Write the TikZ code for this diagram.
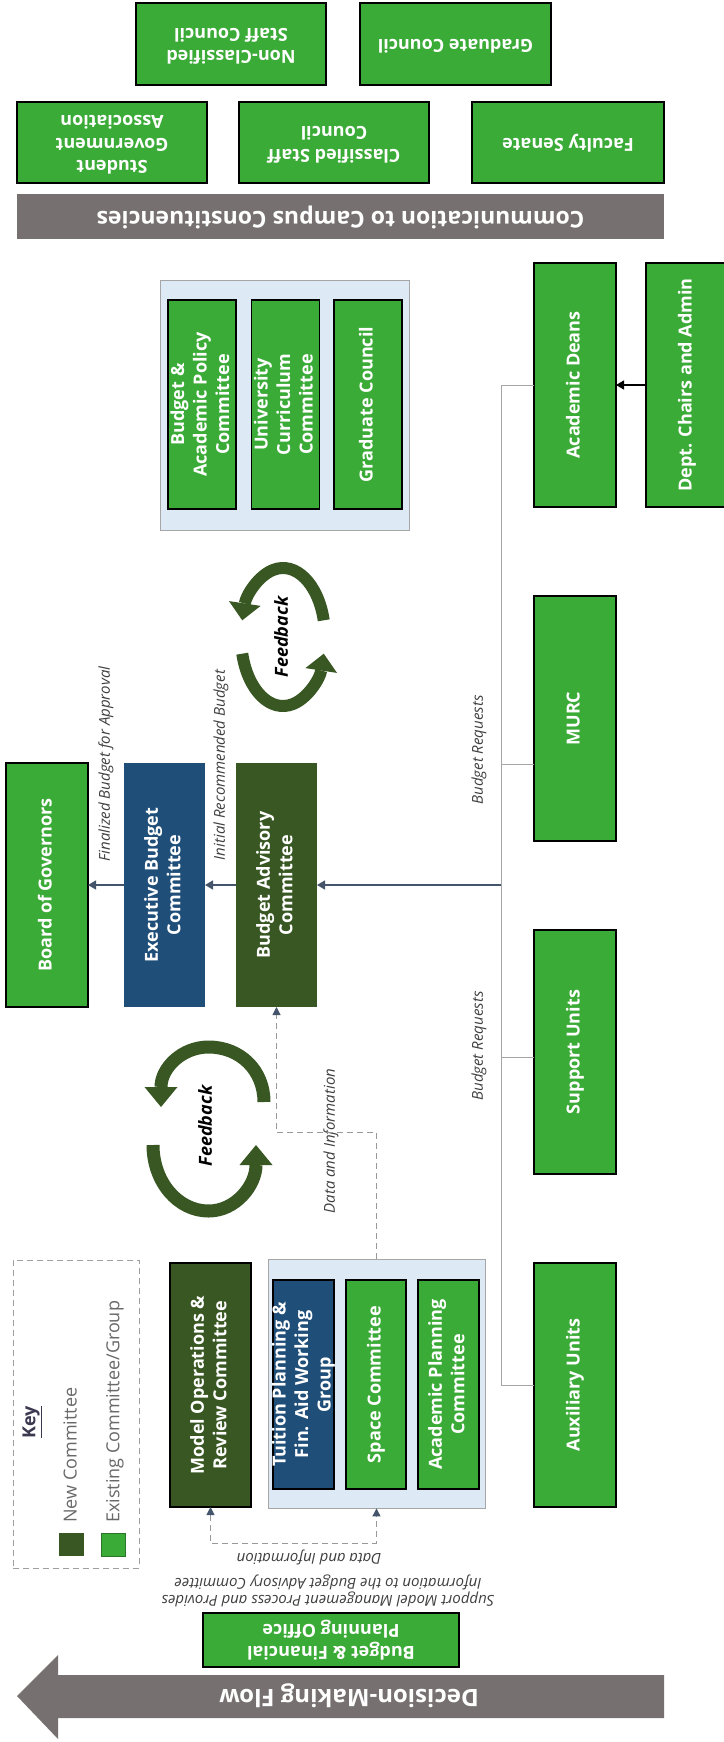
\documentclass[tikz,border=0pt]{standalone}
\usepackage{graphicx}
\usepackage{fontspec}
\setmainfont{Open Sans}
\usetikzlibrary{arrows.meta}
\definecolor{lg}{RGB}{59,171,55}
\definecolor{dg}{RGB}{56,87,35}
\definecolor{bl}{RGB}{31,78,121}
\definecolor{gbar}{RGB}{118,112,113}
\definecolor{lb}{RGB}{221,234,246}
\definecolor{slate}{RGB}{68,84,106}
\definecolor{keytxt}{RGB}{105,105,105}
\definecolor{keyblue}{RGB}{59,56,80}
\newcommand\myrot[1]{\rotatebox{90}{\begin{tabular}{@{}c@{}}#1\end{tabular}}}
\newcommand\myflip[1]{\rotatebox{180}{\begin{tabular}{@{}c@{}}#1\end{tabular}}}
\tikzset{
  bx/.style={inner sep=0pt, outer sep=0pt, text=white, font=\bfseries\fontsize{18}{22.5}\selectfont},
  gbx/.style={bx, fill=lg, draw=black, line width=1.1pt},
  dbx/.style={bx, fill=dg},
  bbx/.style={bx, fill=bl},
  sz/.style 2 args={minimum width=#1, minimum height=#2},
  cont/.style={fill=lb, draw=gray!70, line width=0.8pt, inner sep=0pt},
  lbl/.style={font=\itshape\fontsize{15}{17}\selectfont, text=black!75, inner sep=0pt},
  tline/.style={draw=gray!70, line width=1pt},
  sarr/.style={draw=slate, line width=1.3pt, -{Triangle[length=8pt,width=9pt]}},
  karr/.style={draw=black, line width=1.3pt, -{Triangle[length=8pt,width=9pt]}},
  darr/.style={draw=gray!80, line width=1pt, dash pattern=on 6pt off 4pt, -{Triangle[length=8pt,width=8pt,color=slate]}},
  darrb/.style={draw=gray!80, line width=1pt, dash pattern=on 6pt off 4pt, {Triangle[length=8pt,width=8pt,color=slate]}-{Triangle[length=8pt,width=8pt,color=slate]}},
  fbarc/.style={draw=dg, line width=#1, line cap=butt},
  fbtxt/.style={font=\bfseries\itshape\fontsize{18}{20}\selectfont, text=black, inner sep=0pt},
  keyt/.style={font=\fontsize{18}{20}\selectfont, text=keytxt, inner sep=0pt}
}
\begin{document}
\begin{tikzpicture}[x=1pt, y=-1pt]
\useasboundingbox (0,0) rectangle (723,1742);
\fill[white] (0,0) rectangle (723,1742);

% ---------- top: campus constituencies ----------
\node[gbx, sz={190pt}{82pt}] (ncsc) at (231,44) {\myflip{Non-Classified\\Staff Council}};
\node[gbx, sz={191pt}{82pt}] (gct) at (455.5,44) {\myflip{Graduate Council}};
\node[gbx, sz={190pt}{81pt}] (sga) at (112,142.5) {\myflip{Student\\Government\\Association}};
\node[gbx, sz={190pt}{81pt}] (csc) at (334,142.5) {\myflip{Classified Staff\\Council}};
\node[gbx, sz={192pt}{81pt}] (fs) at (568,142.5) {\myflip{Faculty Senate}};
\node[fill=gbar, text=white, font=\bfseries\fontsize{23}{27}\selectfont, inner sep=0pt, sz={647pt}{45pt}] (comm) at (340.5,216.5) {\myflip{Communication to Campus Constituencies}};

% ---------- upper container ----------
\node[cont, sz={249pt}{250pt}] (uc) at (284.5,405) {};
\node[gbx, sz={68pt}{209pt}] (bapc) at (202,404.5) {\myrot{Budget \&\\Academic Policy\\Committee}};
\node[gbx, sz={67pt}{209pt}] (ucc) at (285.5,404.5) {\myrot{University\\Curriculum\\Committee}};
\node[gbx, sz={68pt}{209pt}] (gc) at (368,404.5) {\myrot{Graduate Council}};

% ---------- right column ----------
\node[gbx, sz={82pt}{244pt}] (ad) at (575,385) {\myrot{Academic Deans}};
\node[gbx, sz={82pt}{244pt}] (dca) at (687,385) {\myrot{Dept. Chairs and Admin}};
\node[gbx, sz={82pt}{245pt}] (murc) at (575,718.5) {\myrot{MURC}};
\node[gbx, sz={82pt}{244pt}] (sup) at (575,1052) {\myrot{Support Units}};
\node[gbx, sz={82pt}{244pt}] (aux) at (575,1385) {\myrot{Auxiliary Units}};

% ---------- decision chain ----------
\node[gbx, sz={82pt}{244pt}] (bog) at (47,885) {\myrot{Board of Governors}};
\node[bbx, sz={81pt}{244pt}] (ebc) at (164.5,885) {\myrot{Executive Budget\\Committee}};
\node[dbx, sz={81pt}{244pt}] (bac) at (276.5,885) {\myrot{Budget Advisory\\Committee}};

% ---------- lower group ----------
\node[dbx, draw=black, line width=1.1pt, sz={81pt}{244pt}] (mor) at (210.5,1385) {\myrot{Model Operations \&\\Review Committee}};
\node[cont, sz={217pt}{249pt}] (lc) at (376.5,1383.5) {};
\node[bbx, draw=black, line width=1.1pt, sz={61pt}{209pt}] (tpf) at (303.5,1384.5) {};
\node[bx] (tpft) at (tpf) {\myrot{Tuition Planning \&\\Fin. Aid Working\\Group}};
\node[gbx, sz={60pt}{209pt}] (spc) at (376,1384.5) {\myrot{Space Committee}};
\node[gbx, sz={61pt}{209pt}] (apc) at (448.5,1384.5) {\myrot{Academic Planning\\Committee}};

\node[gbx, sz={256pt}{54pt}] (bfpo) at (331,1640) {\myflip{Budget \& Financial\\Planning Office}};

% ---------- decision-making flow arrow ----------
\fill[gbar] (17,1696) -- (58,1655) -- (58,1675) -- (664,1675) -- (664,1718) -- (58,1718) -- (58,1739) -- cycle;
\node[text=white, font=\bfseries\fontsize{24}{28}\selectfont, inner sep=0pt, rotate=180] (dmf) at (349,1696) {Decision-Making Flow};

% ---------- key ----------
\node[draw=gray!75, dash pattern=on 6pt off 4pt, line width=1pt, inner sep=0pt, sz={126pt}{308pt}] (keyb) at (76,1414) {};
\node[font=\bfseries\fontsize{18}{20}\selectfont, text=keyblue, inner sep=0pt, rotate=90] (keyh) at (32,1422) {\underline{Key}};
\node[keyt, rotate=90, anchor=west] (knew) at (70,1523) {New Committee};
\node[keyt, rotate=90, anchor=west] (kex) at (115,1523) {Existing Committee/Group};
\node[fill=dg, inner sep=0pt, sz={25pt}{23pt}] (ksq1) at (71.5,1544.5) {};
\node[fill=lg, draw=lg!70!black, line width=0.6pt, inner sep=0pt, sz={24pt}{23pt}] (ksq2) at (113,1544.5) {};

% ---------- labels ----------
\node[lbl, rotate=90] (l1) at (106,764) {Finalized Budget for Approval};
\node[lbl, rotate=90] (l2) at (221,765) {Initial Recommended Budget};
\node[lbl, rotate=90] (l3) at (479,750) {Budget Requests};
\node[lbl, rotate=90] (l4) at (479,1046) {Budget Requests};
\node[lbl, rotate=90] (l5) at (331,1141) {Data and Information};
\node[lbl, rotate=180] (l6) at (309,1557) {Data and Information};
\node[lbl, rotate=180, align=center] (l7) at (328,1591) {Support Model Management Process and Provides\\Information to the Budget Advisory Committee};

% ---------- feedback loops ----------
\draw[fbarc=12pt, -{Triangle[length=17pt,width=32pt,line width=0pt]}] (283,637) ++(-14:42 and 69) arc[start angle=-14, end angle=-166, x radius=42, y radius=69];
\draw[fbarc=12pt, -{Triangle[length=17pt,width=32pt,line width=0pt]}] (283,637) ++(166:42 and 69) arc[start angle=166, end angle=14, x radius=42, y radius=69];
\node[fbtxt, rotate=90] (fb1) at (281,637) {Feedback};

\draw[fbarc=13pt, -{Triangle[length=20pt,width=33pt,line width=0pt]}] (264,1102) .. controls (264,1070) and (240,1047) .. (208.5,1047) .. controls (182,1047) and (161,1068) .. (161,1107);
\draw[fbarc=13pt, -{Triangle[length=20pt,width=33pt,line width=0pt]}] (153,1145) .. controls (153,1182) and (178,1211) .. (208.5,1211) .. controls (236,1211) and (256,1185) .. (256,1145);
\node[fbtxt, rotate=90] (fb2) at (205,1126) {Feedback};

% ---------- connectors ----------
\coordinate (tx) at (501,0);
\coordinate (tmurc) at (501,764);
\coordinate (tsup) at (501,1057);
\coordinate (tba) at (501,885);
\draw[tline] (ad.west) -- (ad.west -| tx) -- (aux.west -| tx) -- (aux.west);
\draw[tline] (tmurc) -- (tmurc -| murc.west);
\draw[tline] (tsup) -- (tsup -| sup.west);
\draw[sarr] (tba) -- (bac.east);
\draw[sarr] (bac.west) -- (ebc.east);
\draw[sarr] (ebc.west) -- (bog.east);
\draw[karr] (dca.west) -- (ad.east);

\coordinate (dm) at (0,1132);
\draw[darr] (lc.north) -- (lc.north |- dm) -- (bac.south |- dm) -- (bac.south);
\coordinate (db) at (0,1543);
\draw[darrb] (mor.south) -- (mor.south |- db) -- (lc.south |- db) -- (lc.south);
\end{tikzpicture}
\end{document}
